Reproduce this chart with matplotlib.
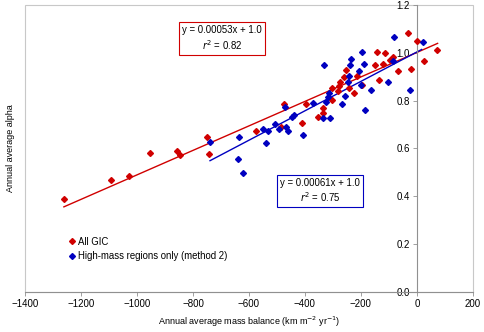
import matplotlib
matplotlib.use("Agg")
import matplotlib.pyplot as plt
from matplotlib.patches import Rectangle

plt.rcParams["font.family"] = ["Liberation Sans", "DejaVu Sans"]

# All GIC (red)
gic_x = [-1261, -1092, -1027, -954, -858, -845, -751, -744, -576, -485, -474,
         -411, -396, -352, -337, -335, -304, -302, -281, -278, -275, -261,
         -254, -242, -225, -215, -196, -149, -144, -135, -120, -113, -96,
         -87, -69, -31, -21, -1, 24, 73]
gic_y = [0.389, 0.469, 0.484, 0.583, 0.591, 0.573, 0.647, 0.579, 0.672, 0.690,
         0.788, 0.707, 0.788, 0.732, 0.749, 0.771, 0.802, 0.853, 0.839, 0.863,
         0.879, 0.898, 0.930, 0.854, 0.830, 0.902, 0.866, 0.948, 1.005, 0.888,
         0.954, 1.000, 0.968, 0.983, 0.922, 1.082, 0.934, 1.051, 0.965, 1.010]

# High-mass regions only, method 2 (blue)
hm_x = [-739, -636, -639, -621, -549, -539, -532, -508, -494, -470, -468,
        -461, -446, -438, -406, -370, -337, -332, -325, -319, -313, -311,
        -268, -256, -246, -244, -239, -235, -208, -201, -196, -189, -185,
        -165, -104, -87, -80, -24, 21]
hm_y = [0.626, 0.650, 0.558, 0.499, 0.683, 0.622, 0.674, 0.701, 0.682, 0.774,
        0.690, 0.674, 0.731, 0.738, 0.657, 0.791, 0.728, 0.947, 0.793, 0.816,
        0.830, 0.728, 0.788, 0.821, 0.877, 0.905, 0.950, 0.975, 0.925, 0.866,
        1.005, 0.955, 0.763, 0.844, 0.880, 0.965, 1.065, 0.845, 1.047]

# trend lines: slope, intercept, x range
gic_fit = (0.000512, 1.0016, -1261, 74)
hm_fit = (0.000615, 1.0035, -739, 17)

red = "#d00000"
blue = "#0000c0"

fig = plt.figure(figsize=(4.85, 3.32), dpi=100)
ax = fig.add_axes([0.0515, 0.1205, 0.9235, 0.8645])

ax.plot(gic_x, gic_y, "D", color=red, ms=3.0, mec=red, label="All GIC", zorder=3)
ax.plot(hm_x, hm_y, "D", color=blue, ms=3.0, mec=blue,
        label="High-mass regions only (method 2)", zorder=3)

for (m, b, x0, x1), c in [(gic_fit, red), (hm_fit, blue)]:
    ax.plot([x0, x1], [m * x0 + b, m * x1 + b], color=c, lw=1.0, zorder=2)

ax.set_xlim(-1400, 200)
ax.set_ylim(0, 1.2)
ax.set_xticks(range(-1400, 201, 200))
yt = [0.0, 0.2, 0.4, 0.6, 0.8, 1.0, 1.2]
ax.set_yticks(yt)
ax.set_yticklabels([f"{v:.1f}" for v in yt])

for s in ["top", "right"]:
    ax.spines[s].set_visible(False)
ax.spines["left"].set_position(("data", 0))
for s in ["left", "bottom"]:
    ax.spines[s].set_color("#909090")
    ax.spines[s].set_linewidth(0.8)
ax.add_patch(Rectangle((0, 0), 1, 1, transform=ax.transAxes, fill=False,
                       ec="#c8c8c8", lw=0.8, clip_on=False, zorder=0))
ax.tick_params(axis="both", labelsize=7, length=3, width=0.6, color="#909090",
               pad=2)

ax.set_xlabel("Annual average mass balance (km m$^{-2}$ yr$^{-1}$)", fontsize=6.5,
              labelpad=4)
fig.text(0.021, 0.553, "Annual average alpha", rotation=90, fontsize=6.5,
         ha="center", va="center")

ax.text(-696, 1.06, "y = 0.00053x + 1.0\n$r^2$ = 0.82", fontsize=6.9,
        ha="center", va="center", linespacing=1.25,
        bbox=dict(boxstyle="square,pad=0.3", fc="white", ec=red, lw=0.8))
ax.text(-345, 0.422, "y = 0.00061x + 1.0\n$r^2$ = 0.75", fontsize=6.9,
        ha="center", va="center", linespacing=1.25,
        bbox=dict(boxstyle="square,pad=0.3", fc="white", ec=blue, lw=0.8))

ax.legend(loc="lower left", bbox_to_anchor=(0.085, 0.095), frameon=False,
          fontsize=6.9, handletextpad=0.1, handlelength=1.1, borderaxespad=0,
          labelspacing=0.45)

fig.savefig("out.png", dpi=100)
